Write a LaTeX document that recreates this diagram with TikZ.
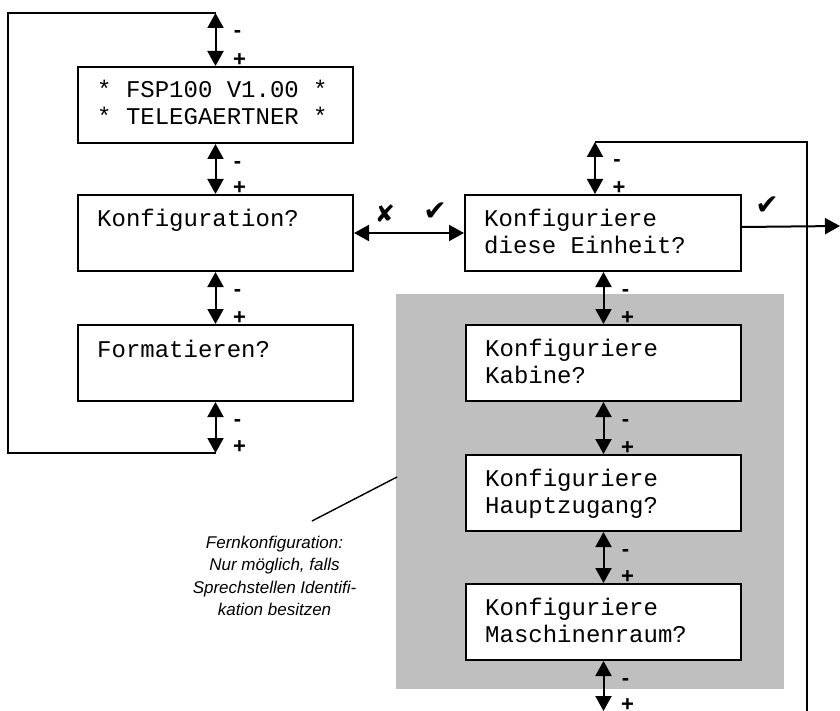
\documentclass[tikz,border=0pt]{standalone}
\usepackage{fontspec}
\setmainfont{Liberation Sans}
\newfontfamily\monofont{Liberation Mono}
\newfontfamily\symfont{DejaVu Sans}
\usetikzlibrary{arrows.meta}
\tikzset{
  box/.style={draw, line width=2pt, fill=white, minimum width=275pt, minimum height=76pt, inner sep=0pt, anchor=north west},
  boxtext/.style={anchor=base west, inner sep=0pt, font=\monofont\fontsize{24}{27}\selectfont, align=left},
  link/.style={line width=2pt, {Triangle[width=16pt,length=15pt]}-{Triangle[width=16pt,length=15pt]}},
  onelink/.style={line width=2pt, -{Triangle[width=16pt,length=15pt]}},
  loopline/.style={line width=2pt},
  pm/.style={font=\bfseries\fontsize{22}{22}\selectfont, inner sep=0pt},
  tick/.style={font=\symfont\fontsize{28}{28}\selectfont, inner sep=0pt},
  note/.style={font=\itshape\fontsize{17}{22.5}\selectfont, align=center, inner sep=0pt},
}
\newcommand\pmlink[3]{%
  \draw[link] (#1) -- (#2)
    node[pm, at start, xshift=22pt, yshift=-21pt] (#3m) {-}
    node[pm, at end, xshift=24pt, yshift=6pt] (#3p) {+};}
\begin{document}
\begin{tikzpicture}[x=1pt,y=-1pt]
\useasboundingbox (0,0) rectangle (840,711);
% gray area
\fill[black!25] (396,294) rectangle (784,689);
% boxes
\node[box] (b1) at (77,66) {};
\node[box] (b2) at (77,194) {};
\node[box] (b3) at (77,324) {};
\node[box, minimum width=276pt] (e) at (464,194) {};
\node[box] (k) at (465,324) {};
\node[box] (h) at (465,454) {};
\node[box] (m) at (465,583) {};
% texts (base = baseline of the last line)
\node[boxtext] (t1) at (97,125) {* FSP100 V1.00 *\\* TELEGAERTNER *};
\node[boxtext] (t2) at (97,227) {Konfiguration?};
\node[boxtext] (t3) at (97,357) {Formatieren?};
\node[boxtext] (te) at (484,254) {Konfiguriere\\diese Einheit?};
\node[boxtext] (tk) at (485,383) {Konfiguriere\\Kabine?};
\node[boxtext] (th) at (485,513) {Konfiguriere\\Hauptzugang?};
\node[boxtext] (tm) at (485,642) {Konfiguriere\\Maschinenraum?};
% left loop
\coordinate (lt) at (b1.north |- 0,13);
\coordinate (lb) at (b1.north |- 0,453);
\draw[loopline] (lt) -- (8,13) -- (8,453) -- (lb);
\pmlink{lt}{b1.north}{a1}
\pmlink{b1.south}{b2.north}{a2}
\pmlink{b2.south}{b3.north}{a3}
\pmlink{b3.south}{lb}{a4}
% right loop
\coordinate (rt) at (595,142);
\coordinate (rc) at (807,142);
\coordinate (rb) at (807,711);
\draw[loopline] (rt) -- (rc) -- (rb);
\pmlink{rt}{rt |- e.north}{a5}
\pmlink{e.south -| k.north}{k.north}{a6}
\pmlink{k.south}{h.north}{a7}
\pmlink{h.south}{m.north}{a8}
\coordinate (mb) at (m.south |- 0,711);
\pmlink{m.south}{mb}{a9}
% horizontal links
\draw[link] (b2.east) -- (e.west);
\coordinate (out) at (840,226);
\draw[onelink] ([yshift=6pt]e.east) -- (out);
\node[tick, font=\symfont\fontsize{24}{24}\selectfont] (x1) at (385,214) {✘};
\node[tick] (c1) at (435,212) {✔};
\node[tick] (c2) at (767,206) {✔};
% note
\coordinate (d1) at (312,521);
\coordinate (d2) at (397,477);
\draw[line width=1.4pt] (d1) -- (d2);
\node[note, anchor=base] (nt) at (274.5,615.5) {Fernkonfiguration:\\Nur möglich, falls\\Sprechstellen Identifi-\\kation besitzen};
\end{tikzpicture}
\end{document}
